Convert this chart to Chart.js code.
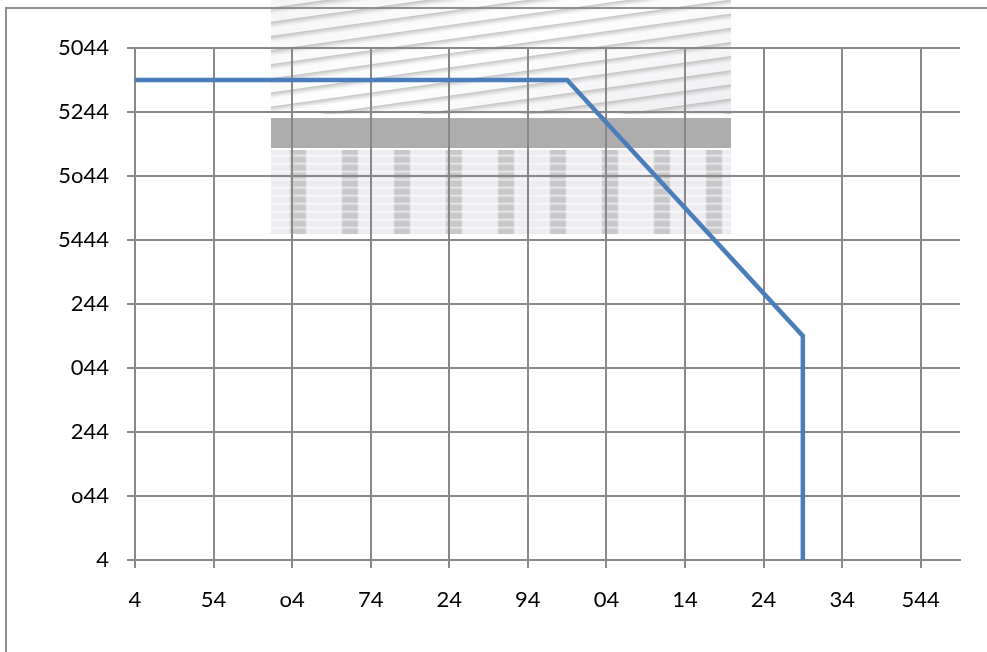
<!DOCTYPE html>
<html>
<head>
<meta charset="utf-8">
<script src="https://cdn.jsdelivr.net/npm/chart.js@4.4.0/dist/chart.umd.min.js"></script>
<style>
  html, body { margin: 0; padding: 0; background: #ffffff; overflow: hidden; }
  #wrap { position: relative; width: 987px; height: 652px; }
  #frame { position: absolute; left: 5px; top: 7px; width: 1100px; height: 800px;
           border-left: 2px solid #8e8e8e; border-top: 2px solid #8e8e8e; box-sizing: border-box; }
  .wm { position: absolute; }
  #wm1 { left: 271px; top: 0px; width: 460px; height: 114px;
         background:
           repeating-linear-gradient(172deg, rgba(165,165,165,0) 0px, rgba(165,165,165,0) 7px, rgba(165,165,165,0.6) 8px, rgba(165,165,165,0.15) 12px, rgba(165,165,165,0) 14px),
           linear-gradient(160deg, #f4f4f6 0%, #ffffff 45%, #eeeef2 100%); }
  #wm2 { left: 271px; top: 118px; width: 460px; height: 30px; background: #adadad; }
  #wm3 { left: 271px; top: 150px; width: 460px; height: 84px;
         background:
           repeating-linear-gradient(0deg, rgba(255,255,255,0) 0px, rgba(255,255,255,0) 5px, rgba(255,255,255,0.7) 6px, rgba(255,255,255,0) 8px),
           repeating-linear-gradient(90deg, rgba(170,170,170,0) 0px, rgba(170,170,170,0) 18px, rgba(170,170,170,0.55) 20px, rgba(170,170,170,0.55) 34px, rgba(170,170,170,0) 36px, rgba(170,170,170,0) 52px),
           #ececf1; }
  #c { position: absolute; left: 0; top: 0; }
</style>
</head>
<body>
<div id="wrap">
  <div id="wm1" class="wm"></div>
  <div id="wm2" class="wm"></div>
  <div id="wm3" class="wm"></div>
  <div id="frame"></div>
  <canvas id="c" width="987" height="652"></canvas>
</div>
<script>
// Data
const xValues = [0, 55, 85, 85];
const yValues = [1500, 1500, 700, 0];

// Axis settings and tick labels (as printed in the reference)
const xMin = 0, xMax = 105, xStep = 10;
const yMin = 0, yMax = 1600, yStep = 200;
const xTickLabels = ['4', '54', 'o4', '74', '24', '94', '04', '14', '24', '34', '544'];
const yTickLabels = ['4', 'o44', '244', '044', '244', '5444', '5o44', '5244', '5044'];

const points = xValues.map((x, i) => ({ x: x, y: yValues[i] }));

const gridColor = '#888888';
const fontSpec = { family: 'Lato, "Open Sans", sans-serif', size: 22 };

new Chart(document.getElementById('c'), {
  type: 'scatter',
  data: {
    datasets: [{
      data: points,
      showLine: true,
      borderColor: '#4a7ebb',
      borderWidth: 4.5,
      pointRadius: 0,
      pointHoverRadius: 0,
      fill: false,
      tension: 0,
      borderJoinStyle: 'miter',
      borderCapStyle: 'butt'
    }]
  },
  options: {
    responsive: false,
    animation: false,
    devicePixelRatio: 1,
    layout: { padding: { left: 0, right: 27, top: 48, bottom: 0 } },
    plugins: { legend: { display: false }, tooltip: { enabled: false } },
    scales: {
      x: {
        type: 'linear',
        min: xMin, max: xMax,
        afterBuildTicks: (axis) => { axis.ticks = xTickLabels.map((_, i) => ({ value: xMin + i * xStep })); },
        afterFit: (axis) => { axis.height = 92; },
        ticks: {
          stepSize: xStep,
          autoSkip: false,
          maxRotation: 0,
          color: '#000000',
          font: fontSpec,
          padding: 19,
          callback: (v) => xTickLabels[Math.round((v - xMin) / xStep)] ?? ''
        },
        grid: { color: gridColor, lineWidth: 2, tickLength: 8, drawTicks: true },
        border: { color: gridColor, width: 2 }
      },
      y: {
        type: 'linear',
        min: yMin, max: yMax,
        afterBuildTicks: (axis) => { axis.ticks = yTickLabels.map((_, i) => ({ value: yMin + i * yStep })); },
        afterFit: (axis) => { axis.width = 135; },
        ticks: {
          stepSize: yStep,
          autoSkip: false,
          color: '#000000',
          font: fontSpec,
          padding: 18,
          callback: (v) => yTickLabels[Math.round((v - yMin) / yStep)] ?? ''
        },
        grid: { color: gridColor, lineWidth: 2, tickLength: 8, drawTicks: true },
        border: { color: gridColor, width: 2 }
      }
    }
  }
});
</script>
</body>
</html>
